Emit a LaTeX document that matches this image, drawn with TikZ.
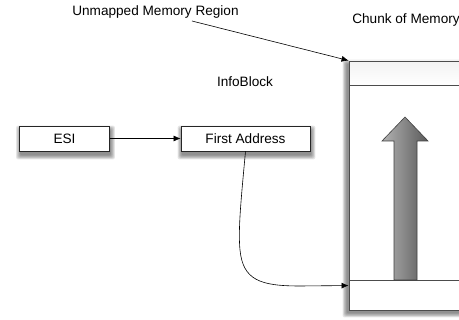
\documentclass[tikz,border=0pt]{standalone}
\usepackage{fontspec}
\setmainfont{Liberation Sans}
\usetikzlibrary{arrows.meta,calc,backgrounds}
% soft shadow drawn as stacked translucent rectangles behind a node
\newcommand{\softshade}[5]{% node, dx, dy, spread, opacity
  \foreach \k in {0,...,5}{
    \fill[black, opacity=#5, rounded corners=2pt]
      ($(#1.north west)+(#2-#4+\k*#4/5,#3-#4+\k*#4/5)$) rectangle
      ($(#1.south east)+(#2+#4-\k*#4/5,#3+#4-\k*#4/5)$);
  }}
\begin{document}
\begin{tikzpicture}[x=1pt,y=-1pt,
  lbl/.style={font=\fontsize{13.6}{15}\selectfont, inner sep=0pt},
  boxnode/.style={draw=black!85, line width=0.8pt, fill=white, minimum height=25pt,
    inner sep=0pt, font=\fontsize{13.6}{15}\selectfont},
  link/.style={line width=0.6pt, -{Latex[length=7pt,width=6pt]}},
  memframe/.style={draw=black!70, line width=0.9pt},
]
\useasboundingbox (0,0) rectangle (459,320);
\clip (0,0) rectangle (459,320);

% labels
\node[lbl] (unmapped) at (155.5,12) {Unmapped Memory Region};
\node[lbl] (chunklbl) at (406,20) {Chunk of Memory};
\node[lbl] (infoblock) at (245,82) {InfoBlock};

% chunk of memory
\node[memframe, fill=white, minimum width=130pt, minimum height=249pt, inner sep=0pt]
  (chunk) at (414,185.5) {};
\node[memframe, minimum width=130pt, minimum height=24pt, inner sep=0pt,
  top color=black!5, bottom color=white, anchor=north west] (topband) at (chunk.north west) {};
\node[memframe, fill=white, minimum width=130pt, minimum height=30pt, inner sep=0pt,
  anchor=south west] (bottomband) at (chunk.south west) {};

% growth arrow inside the chunk
\draw[draw=black!75, line width=0.6pt, left color=black!30, right color=black!65]
  (394,280) -- (394,141) -- (382,141) -- (405,117) -- (428,141) -- (417,141) -- (417,280) -- cycle;

% registers
\node[boxnode, minimum width=90pt] (esi) at (64.5,138.5) {ESI};
\node[boxnode, minimum width=129pt] (first) at (245.5,138.5) {First Address};

% shadows behind the boxes
\begin{pgfonlayer}{background}
  \softshade{esi}{1}{4}{4}{0.09}
  \softshade{first}{1}{4}{4}{0.09}
  \softshade{chunk}{-2}{3}{4}{0.09}
\end{pgfonlayer}

% connectors
\coordinate (unmappedtail) at (192,21);
\coordinate (bandentry) at ($(bottomband.north west)+(0,6)$);
\draw[link] (unmappedtail) -- (chunk.north west);
\draw[link] (esi) -- (first);
\draw[link] (first.south) .. controls (241,200) and (238,230) .. (240,250)
  .. controls (243,280) and (260,286) .. (300,286) -- (bandentry);
\end{tikzpicture}
\end{document}
